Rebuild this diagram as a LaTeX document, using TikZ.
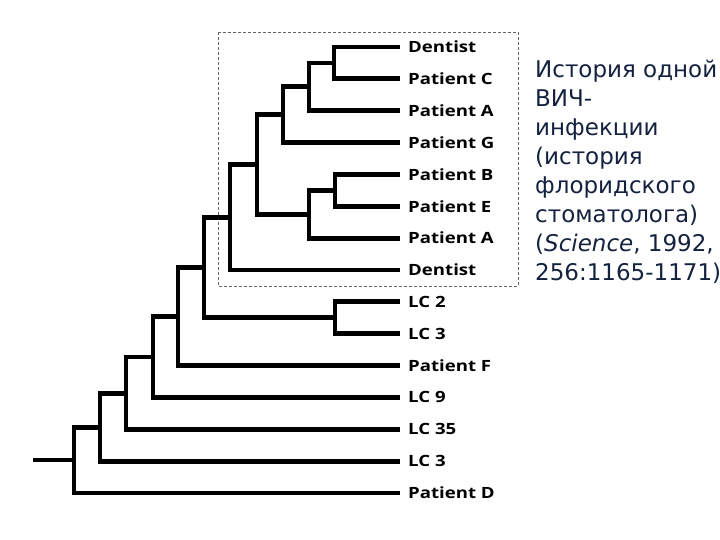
\documentclass[tikz,border=0pt]{standalone}
\usepackage{fontspec}
\setmainfont{DejaVu Sans}
\newfontfamily\leaffont{Open Sans}[FakeStretch=1.2]
\definecolor{navy}{HTML}{14223F}

\begin{document}
\begin{tikzpicture}[x=1pt, y=-1pt,
			leaf/.style={anchor=west, inner xsep=8pt, inner ysep=2pt,
				font=\leaffont\bfseries\fontsize{15.5}{18}\selectfont, text=black},
			branch/.style={draw, line width=4.8pt, to path={|- (\tikztotarget)}},
			clade/.style={draw=black!60, line width=0.8pt, dash pattern=on 3pt off 2pt}]
			\useasboundingbox (0, 0) rectangle (720, 540);
			\clip (0, 0) rectangle (720, 540);

			% dashed frame round the dentist clade
			\draw[clade] (218, 32) rectangle (518, 286);

			\node[leaf] (l1) at (400, 47) {Dentist};
			\node[leaf] (l2) at (400, 78.9) {Patient C};
			\node[leaf] (l3) at (400, 110.7) {Patient A};
			\node[leaf] (l4) at (400, 142.6) {Patient G};
			\node[leaf] (l5) at (400, 174.4) {Patient B};
			\node[leaf] (l6) at (400, 206.3) {Patient E};
			\node[leaf] (l7) at (400, 238.1) {Patient A};
			\node[leaf] (l8) at (400, 270) {Dentist};
			\node[leaf] (l9) at (400, 301.8) {LC 2};
			\node[leaf] (l10) at (400, 333.7) {LC 3};
			\node[leaf] (l11) at (400, 365.5) {Patient F};
			\node[leaf] (l12) at (400, 397.4) {LC 9};
			\node[leaf] (l13) at (400, 429.2) {LC 35};
			\node[leaf] (l14) at (400, 461.1) {LC 3};
			\node[leaf] (l15) at (400, 492.9) {Patient D};

			\coordinate (n1) at (334, 63);
			\coordinate (n2) at (309, 86.9);
			\coordinate (n3) at (283, 114.7);
			\coordinate (n4) at (335, 190.4);
			\coordinate (n5) at (309, 214.2);
			\coordinate (n6) at (257, 164.5);
			\coordinate (n7) at (230, 217.2);
			\coordinate (n8) at (335, 317.8);
			\coordinate (n9) at (204, 267.5);
			\coordinate (n10) at (178, 316.5);
			\coordinate (n11) at (153, 357);
			\coordinate (n12) at (126, 393.1);
			\coordinate (n13) at (100, 427.1);
			\coordinate (n14) at (74, 460);
			\coordinate (r) at (33, 460);

			\path (n1)  edge[branch]  (l1);
			\path (n1)  edge[branch]  (l2);
			\path (n2)  edge[branch]  (n1);
			\path (n2)  edge[branch]  (l3);
			\path (n3)  edge[branch]  (n2);
			\path (n3)  edge[branch]  (l4);
			\path (n4)  edge[branch]  (l5);
			\path (n4)  edge[branch]  (l6);
			\path (n5)  edge[branch]  (n4);
			\path (n5)  edge[branch]  (l7);
			\path (n6)  edge[branch]  (n3);
			\path (n6)  edge[branch]  (n5);
			\path (n7)  edge[branch]  (n6);
			\path (n7)  edge[branch]  (l8);
			\path (n8)  edge[branch]  (l9);
			\path (n8)  edge[branch]  (l10);
			\path (n9)  edge[branch]  (n7);
			\path (n9)  edge[branch]  (n8);
			\path (n10)  edge[branch]  (n9);
			\path (n10)  edge[branch]  (l11);
			\path (n11)  edge[branch]  (n10);
			\path (n11)  edge[branch]  (l12);
			\path (n12)  edge[branch]  (n11);
			\path (n12)  edge[branch]  (l13);
			\path (n13)  edge[branch]  (n12);
			\path (n13)  edge[branch]  (l14);
			\path (n14)  edge[branch]  (n13);
			\path (n14)  edge[branch]  (l15);
			\path (r)  edge[branch]  (n14);

			\node[anchor=north west, inner sep=0pt, align=left, text=navy,
				font=\fontsize{23}{29}\selectfont] (note) at (535, 60)
				{История одной\\ВИЧ-\\инфекции\\(история\\флоридского\\стоматолога)\\(\textit{Science}, 1992,\\256:1165-1171)};
\end{tikzpicture}
\end{document}
